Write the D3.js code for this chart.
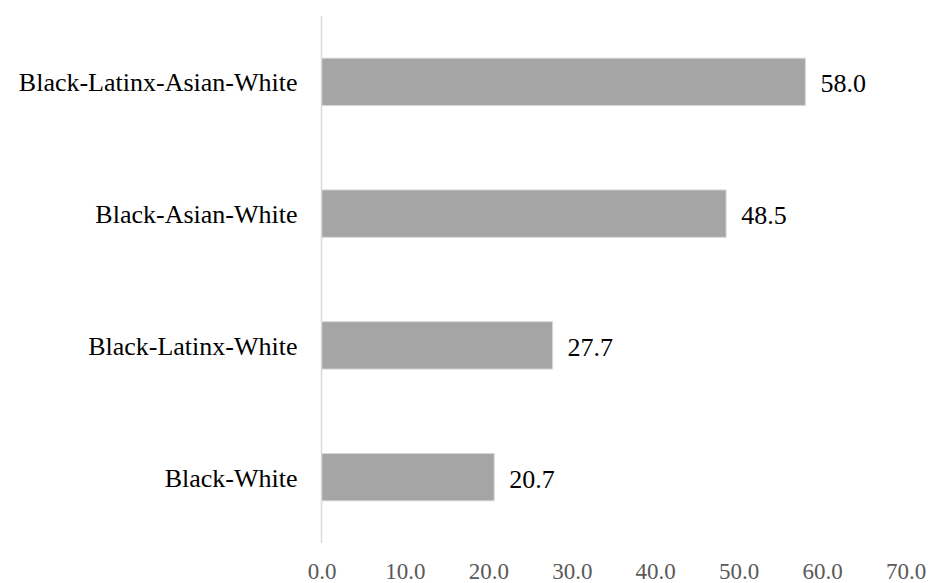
<!DOCTYPE html>
<html>
<head>
<meta charset="utf-8">
<script src="https://cdn.jsdelivr.net/npm/d3@7"></script>
<style>
  body { margin: 0; background: #fff; }
</style>
</head>
<body>
<div id="chart"></div>
<script>
var categories = ["Black-Latinx-Asian-White", "Black-Asian-White", "Black-Latinx-White", "Black-White"];
var values = [58.0, 48.5, 27.7, 20.7];
var ticks = [0, 10, 20, 30, 40, 50, 60, 70];

var data = categories.map((c, i) => ({ cat: c, val: values[i] }));
var serif = "'Liberation Serif', 'Times New Roman', Times, 'DejaVu Serif', serif";

var W = 928, H = 583;
var margin = { top: 16, right: 22, bottom: 40, left: 321.5 },
    width = W - margin.left - margin.right,
    height = H - margin.top - margin.bottom;

var svg = d3.select('#chart').append('svg')
    .attr('width', W)
    .attr('height', H)
  .append('g')
    .attr('transform', 'translate(' + margin.left + ',' + margin.top + ')');

var x = d3.scaleLinear()
    .domain([0, 70])
    .range([0, 584]);

var y = d3.scaleBand()
    .domain(categories)
    .range([0, 527])
    .paddingInner(0.64)
    .paddingOuter(0.32);

// bars
svg.selectAll("rect")
    .data(data)
    .join("rect")
      .attr("x", 0)
      .attr("y", d => y(d.cat))
      .attr("width", d => x(d.val))
      .attr("height", y.bandwidth())
      .style("fill", "#a5a5a5")
      .style("stroke", "#d9d9d9")
      .style("stroke-width", 1);

// vertical axis line
svg.append("line")
    .attr("x1", 0).attr("x2", 0)
    .attr("y1", 0).attr("y2", 527)
    .style("stroke", "#d9d9d9")
    .style("stroke-width", 1.5);

// category labels
svg.selectAll(".cat")
    .data(data)
    .join("text")
      .attr("class", "cat")
      .attr("x", -24)
      .attr("y", d => y(d.cat) + y.bandwidth() / 2)
      .attr("dy", "0.37em")
      .attr("text-anchor", "end")
      .attr("font-family", serif)
      .attr("font-size", 26)
      .attr("fill", "#000")
      .text(d => d.cat);

// value labels
svg.selectAll(".val")
    .data(data)
    .join("text")
      .attr("class", "val")
      .attr("x", d => x(d.val) + 15)
      .attr("y", d => y(d.cat) + y.bandwidth() / 2)
      .attr("dy", "0.4em")
      .attr("font-family", serif)
      .attr("font-size", 26)
      .attr("fill", "#000")
      .text(d => d.val.toFixed(1));

// x axis (labels only)
var xAxis = svg.append("g")
    .attr("transform", `translate(0, ${height})`)
    .call(d3.axisBottom(x).tickValues(ticks).tickFormat(d3.format(".1f")).tickSize(0).tickPadding(20));
xAxis.select(".domain").remove();
xAxis.attr("font-family", serif).attr("font-size", 23);
xAxis.selectAll("text").attr("fill", "#595959");
</script>
</body>
</html>
